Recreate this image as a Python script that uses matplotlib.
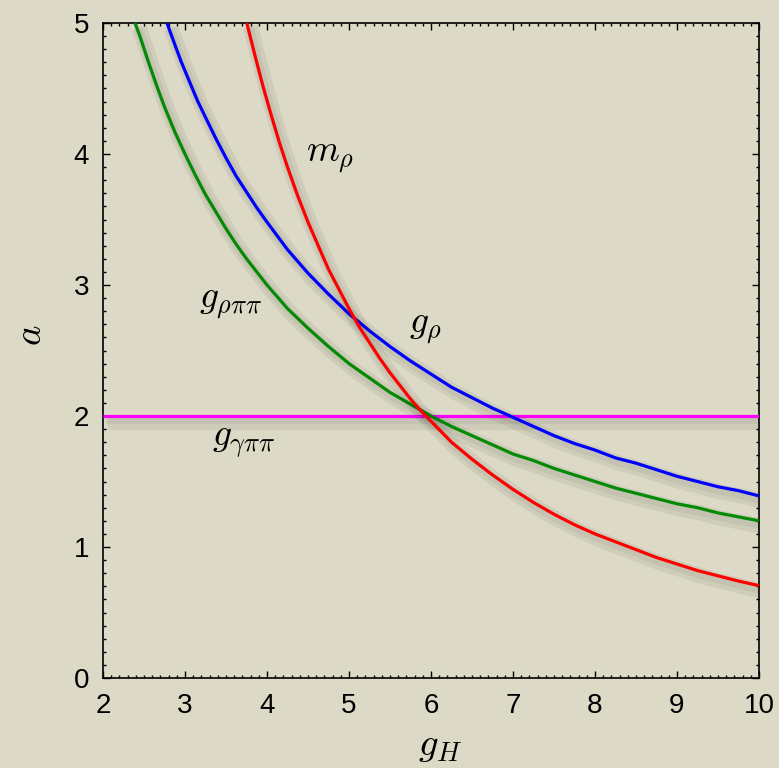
import matplotlib
matplotlib.use("Agg")
import matplotlib.pyplot as plt
import matplotlib.patheffects as pe
from matplotlib.ticker import MultipleLocator

# --- data ---
g_mrho = [3.75, 3.85, 3.95, 4.05, 4.15, 4.25, 4.375, 4.5, 4.625, 4.75, 4.875, 5.0, 5.125, 5.25, 5.375,
          5.5, 5.625, 5.75, 5.875, 6.0, 6.25, 6.5, 6.75, 7.0, 7.25, 7.5, 7.75, 8.0, 8.25, 8.5, 8.75,
          9.0, 9.25, 9.5, 9.75, 10.0]
a_mrho = [5.01, 4.76, 4.52, 4.30, 4.09, 3.90, 3.68, 3.48, 3.30, 3.12, 2.97, 2.82, 2.68, 2.56, 2.44,
          2.33, 2.23, 2.13, 2.04, 1.96, 1.80, 1.67, 1.55, 1.44, 1.34, 1.25, 1.17, 1.10, 1.04, 0.98, 0.92,
          0.87, 0.82, 0.78, 0.74, 0.705]

g_grho = [2.78, 2.85, 2.95, 3.05, 3.15, 3.25, 3.375, 3.5, 3.625, 3.75, 3.875, 4.0, 4.25, 4.5, 4.75,
          5.0, 5.25, 5.5, 5.75, 6.0, 6.25, 6.5, 6.75, 7.0, 7.25, 7.5, 7.75, 8.0, 8.25, 8.5, 8.75,
          9.0, 9.25, 9.5, 9.75, 10.0]
a_grho = [5.0, 4.88, 4.71, 4.56, 4.41, 4.28, 4.12, 3.97, 3.83, 3.71, 3.59, 3.48, 3.27, 3.09, 2.93,
          2.78, 2.65, 2.53, 2.42, 2.32, 2.22, 2.14, 2.06, 1.99, 1.92, 1.85, 1.79, 1.74, 1.68, 1.64, 1.59,
          1.54, 1.50, 1.46, 1.43, 1.39]

g_grpp = [2.39, 2.45, 2.55, 2.65, 2.75, 2.875, 3.0, 3.125, 3.25, 3.375, 3.5, 3.625, 3.75, 3.875, 4.0,
          4.25, 4.5, 4.75, 5.0, 5.25, 5.5, 5.75, 6.0, 6.25, 6.5, 6.75, 7.0, 7.25, 7.5, 7.75, 8.0,
          8.25, 8.5, 8.75, 9.0, 9.25, 9.5, 9.75, 10.0]
a_grpp = [5.0, 4.9, 4.71, 4.53, 4.36, 4.17, 4.0, 3.84, 3.69, 3.56, 3.43, 3.31, 3.2, 3.10, 3.0,
          2.82, 2.67, 2.53, 2.4, 2.29, 2.18, 2.09, 2.0, 1.92, 1.85, 1.78, 1.71, 1.66, 1.6, 1.55, 1.5,
          1.45, 1.41, 1.37, 1.33, 1.30, 1.26, 1.23, 1.2]

g_ggpp = [2.0, 10.0]
a_ggpp = [2.0, 2.0]

xticks = [2, 3, 4, 5, 6, 7, 8, 9, 10]
yticks = [0, 1, 2, 3, 4, 5]

plt.rcParams["mathtext.fontset"] = "cm"
bg = "#dcdac6"
fig = plt.figure(figsize=(7.79, 7.68), dpi=100, facecolor=bg)
ax = fig.add_axes([103/779, 90/768, (759-103)/779, (678-23)/768])
ax.set_facecolor(bg)

shadow = [pe.SimpleLineShadow(offset=(3, -4), shadow_color="k", alpha=0.06, linewidth=11),
          pe.SimpleLineShadow(offset=(2, -3), shadow_color="k", alpha=0.05, linewidth=6),
          pe.Normal()]
lw = 2.3
kw = dict(lw=lw, path_effects=shadow, solid_joinstyle="round", solid_capstyle="butt")
ax.plot(g_ggpp, a_ggpp, color="#ff00ff", zorder=3, **kw)
ax.plot(g_grpp, a_grpp, color="#058a05", zorder=3, **kw)
ax.plot(g_grho, a_grho, color="#0000ff", zorder=4, **kw)
ax.plot(g_mrho, a_mrho, color="#ff0000", zorder=5, **kw)

ax.set_xlim(2, 10)
ax.set_ylim(0, 5)
ax.set_xticks(xticks)
ax.set_yticks(yticks)
ax.xaxis.set_minor_locator(MultipleLocator(0.1))
ax.yaxis.set_minor_locator(MultipleLocator(0.1))
ax.tick_params(which="both", direction="in", top=True, right=True, width=1, colors="black")
ax.tick_params(which="major", length=5)
ax.tick_params(which="minor", length=2.5)
ax.tick_params(axis="x", which="major", pad=11)
ax.tick_params(axis="y", which="major", pad=10)
for lab in ax.get_xticklabels() + ax.get_yticklabels():
    lab.set_fontfamily("Liberation Sans")
    lab.set_fontsize(20)
for s in ax.spines.values():
    s.set_linewidth(1.2)

tk = dict(fontsize=27, ha="center", va="center")
ax.text(4.77, 3.98, r"$m_\rho$", **tk)
ax.text(5.93, 2.67, r"$g_\rho$", **tk)
ax.text(3.56, 2.86, r"$g_{\rho\pi\pi}$", **tk)
ax.text(3.71, 1.80, r"$g_{\gamma\pi\pi}$", **tk)

fig.text(30/779, 1 - 335/768, r"$a$", fontsize=28, rotation=90, ha="center", va="center")
fig.text(440/779, 1 - 745/768, r"$g_H$", fontsize=28, ha="center", va="center")

fig.savefig("out.png", dpi=100, facecolor=bg)
